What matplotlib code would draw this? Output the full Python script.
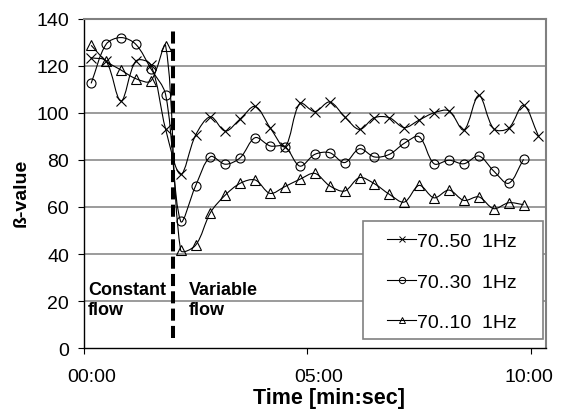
import numpy as np
import matplotlib
matplotlib.use("Agg")
import matplotlib.pyplot as plt
from matplotlib.path import Path
from matplotlib.patches import PathPatch, Rectangle
from matplotlib.lines import Line2D
import matplotlib.transforms as mtransforms

plt.rcParams['font.family'] = ['Liberation Sans', 'DejaVu Sans']

# sample times [s], one reading every 20 s
t_sec = [10, 30, 50, 70, 90, 110, 130, 150, 170, 190, 210, 230, 250, 270, 290, 310,
         330, 350, 370, 390, 410, 430, 450, 470, 490, 510, 530, 550, 570, 590, 610]

beta_70_50 = [123.5, 122.1, 105.1, 122.1, 120.5, 93.0, 73.9, 90.5, 98.4, 92.3, 97.5,
              102.8, 93.8, 85.7, 104.1, 100.6, 104.7, 98.4, 93.0, 98.0, 98.0,
              93.8, 97.0, 100.1, 100.9, 92.8, 107.5, 93.3, 93.5, 103.3, 90.2]
beta_70_30 = [112.6, 129.2, 132.1, 129.2, 118.9, 107.7, 54.0, 68.9, 81.4, 78.2, 81.0,
              89.5, 86.0, 85.7, 77.4, 82.4, 83.1, 78.9, 84.8, 81.3, 82.4,
              87.1, 89.9, 78.4, 79.9, 78.4, 81.7, 75.3, 70.1, 80.3]
beta_70_10 = [128.8, 122.1, 118.3, 114.6, 113.6, 128.5, 41.7, 43.7, 57.6, 65.1, 70.1,
              71.5, 65.8, 68.7, 71.8, 74.3, 69.0, 66.8, 72.5, 69.9, 65.4,
              62.1, 69.2, 63.9, 67.2, 62.8, 64.3, 59.3, 61.8, 61.0]

series_labels = ['70..50  1Hz', '70..30  1Hz', '70..10  1Hz']
series_markers = ['x', 'o', '^']
x_ticks = [0, 5, 10]
x_ticklabels = ['00:00', '05:00', '10:00']
y_ticks = [0, 20, 40, 60, 80, 100, 120, 140]
switch_min = 2.0   # change from constant to variable flow


def smooth_path(ax, x, y, tension=1/3.):
    # smoothed line: bezier through every point, control arms weighted by
    # the on-screen length of the neighbouring segments
    pts = ax.transData.transform(np.column_stack([x, y]))
    n = len(pts)
    seg = np.hypot(*np.diff(pts, axis=0).T)
    c_in = np.zeros_like(pts)
    c_out = np.zeros_like(pts)
    for i in range(n):
        if i == 0:
            c_out[i] = pts[0] + (pts[1] - pts[0]) * tension
            continue
        if i == n - 1:
            c_in[i] = pts[i] - (pts[i] - pts[i - 1]) * tension
            continue
        tang = pts[i + 1] - pts[i - 1]
        d1, d2 = seg[i - 1], seg[i]
        c_in[i] = pts[i] - tang * tension * d1 / (d1 + d2)
        c_out[i] = pts[i] + tang * tension * d2 / (d1 + d2)
    verts = [pts[0]]
    codes = [Path.MOVETO]
    for i in range(n - 1):
        verts += [c_out[i], c_in[i + 1], pts[i + 1]]
        codes += [Path.CURVE4] * 3
    verts = ax.transData.inverted().transform(np.array(verts))
    return Path(verts, codes)


fig = plt.figure(figsize=(5.72, 4.14), dpi=100)
ax = fig.add_axes([0.1463, 0.157, 0.8082, 0.7947])
ax.set_xlim(0, 10.335)
ax.set_ylim(0, 140)

for yv in y_ticks[1:-1]:
    ax.axhline(yv, color='#808080', lw=1.1, zorder=1)

handles = []
for vals, mk, lab in zip([beta_70_50, beta_70_30, beta_70_10], series_markers, series_labels):
    tm = np.array(t_sec[:len(vals)]) / 60.0
    ax.add_patch(PathPatch(smooth_path(ax, tm, vals), fill=False, edgecolor='black',
                           lw=0.8, zorder=3))
    ax.plot(tm, vals, linestyle='none', marker=mk, ms=6.5 if mk != '^' else 7,
            mfc='none', mec='black', mew=0.8, zorder=4)
    handles.append(Line2D([], [], color='black', lw=0.8, marker=mk, ms=4.5,
                          mfc='none', mec='black', mew=0.7, label=lab))

ax.plot([switch_min, switch_min], [4.3, 136.6], color='black', lw=2.9,
        linestyle=(0, (3.0, 1.3)), zorder=5)

ax.set_yticks(y_ticks)
ax.set_xticks(x_ticks)
ax.set_xticklabels(x_ticklabels)
ax.tick_params(axis='both', direction='out', length=4.5, width=0.8, labelsize=14)
ax.tick_params(axis='x', pad=10)
ax.tick_params(axis='y', pad=6)

# nudge time labels to the right like the original axis
for lbl, dx in zip(ax.get_xticklabels(), [8, 11, -2]):
    lbl.set_transform(lbl.get_transform() +
                      mtransforms.ScaledTranslation(dx / 100, 0, fig.dpi_scale_trans))

for side in ['left', 'bottom']:
    ax.spines[side].set_color('black')
    ax.spines[side].set_linewidth(1.0)
for side in ['top', 'right']:
    ax.spines[side].set_color('#808080')
    ax.spines[side].set_linewidth(1.5)

ax.text(0.1, 28.6, 'Constant\nflow', fontsize=13, fontweight='bold', ha='left',
        va='top', linespacing=1.25, zorder=6)
ax.text(2.35, 28.6, 'Variable\nflow', fontsize=13, fontweight='bold', ha='left',
        va='top', linespacing=1.25, zorder=6)

# legend box drawn by hand, entries placed inside it
ax.add_patch(Rectangle((0.604, 0.0274), 0.3895, 0.3586, transform=ax.transAxes,
                       facecolor='white', edgecolor='#808080', lw=1.2, zorder=7))
leg = ax.legend(handles=handles, loc='center left', bbox_to_anchor=(0.656, 0.2015),
                frameon=False, fontsize=14, handlelength=1.5, handletextpad=0.05,
                labelspacing=1.18, borderpad=0, borderaxespad=0)
leg.set_zorder(8)

fig.text(0.575, 0.025, 'Time [min:sec]', fontsize=15.5, fontweight='bold', ha='center')
fig.text(0.037, 0.535, 'ß-value', fontsize=14, fontweight='bold', rotation=90,
         ha='center', va='center')

fig.savefig('out.png', dpi=100)
